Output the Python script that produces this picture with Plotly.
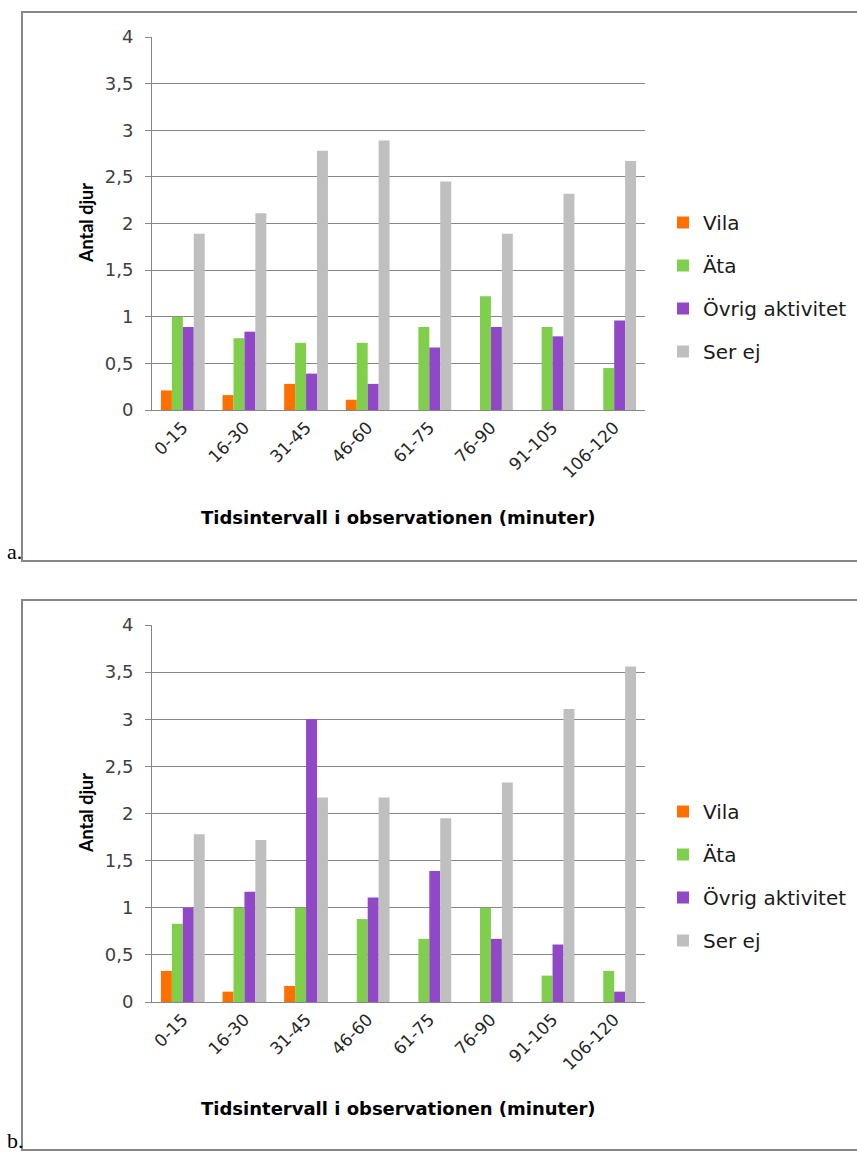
import plotly.graph_objects as go

W, H = 857, 1153

categories = ["0-15", "16-30", "31-45", "46-60", "61-75", "76-90", "91-105", "106-120"]
series_names = ["Vila", "Äta", "Övrig aktivitet", "Ser ej"]
colors = ["#FF7000", "#80CF4C", "#9048C6", "#BFBFBF"]

# Chart a
a_vila = [0.21, 0.16, 0.28, 0.11, 0, 0, 0, 0]
a_ata = [1.0, 0.77, 0.72, 0.72, 0.89, 1.22, 0.89, 0.45]
a_ovrig = [0.89, 0.84, 0.39, 0.28, 0.67, 0.89, 0.79, 0.96]
a_serej = [1.89, 2.11, 2.78, 2.89, 2.45, 1.89, 2.32, 2.67]

# Chart b
b_vila = [0.33, 0.11, 0.17, 0, 0, 0, 0, 0]
b_ata = [0.83, 1.0, 1.0, 0.88, 0.67, 1.0, 0.28, 0.33]
b_ovrig = [1.0, 1.17, 3.0, 1.11, 1.39, 0.67, 0.61, 0.11]
b_serej = [1.78, 1.72, 2.17, 2.17, 1.95, 2.33, 3.11, 3.56]

y_ticks = [0, 0.5, 1, 1.5, 2, 2.5, 3, 3.5, 4]
y_ticktext = ["0", "0,5", "1", "1,5", "2", "2,5", "3", "3,5", "4"]

x_title = "Tidsintervall i observationen (minuter)"
y_title = "Antal djur"


def px(x):
    return x / W


def py(y):
    return 1 - y / H


fig = go.Figure()

for data, xa, ya, leg in [
    ([a_vila, a_ata, a_ovrig, a_serej], "x", "y", "legend"),
    ([b_vila, b_ata, b_ovrig, b_serej], "x2", "y2", "legend2"),
]:
    for name, vals, col in zip(series_names, data, colors):
        fig.add_trace(go.Bar(
            x=categories, y=vals, name=name, marker_color=col,
            marker_line_width=0, xaxis=xa, yaxis=ya, legend=leg,
            legendgroup=leg + name,
        ))

FONT = "DejaVu Sans"
GRID = "#878787"

axis_common_y = dict(
    range=[0, 4], tickvals=y_ticks, ticktext=y_ticktext,
    showgrid=True, gridcolor=GRID, gridwidth=1, zeroline=False,
    showline=True, linecolor=GRID, linewidth=1,
    ticks="outside", ticklen=6, tickcolor=GRID, ticklabelstandoff=8,
    tickfont=dict(family=FONT, size=18, color="#404040"),
    fixedrange=True, automargin=False,
)
axis_common_x = dict(
    showline=True, linecolor=GRID, linewidth=1, ticks="",
    tickangle=-45, tickfont=dict(family=FONT, size=17, color="#262626"),
    showgrid=False, fixedrange=True, automargin=False,
)

legend_common = dict(
    font=dict(family=FONT, size=20, color="#1a1a1a"),
    bgcolor="rgba(0,0,0,0)", tracegroupgap=14,
    xanchor="left", yanchor="top", itemclick=False,
)

fig.update_layout(
    template="none",
    width=W, height=H, margin=dict(l=0, r=0, t=0, b=0, pad=0),
    paper_bgcolor="white", plot_bgcolor="white",
    barmode="group", bargap=0.29, bargroupgap=0,
    xaxis=dict(domain=[px(152), px(645)], anchor="y", **axis_common_x),
    yaxis=dict(domain=[py(410), py(37)], anchor="x", **axis_common_y),
    xaxis2=dict(domain=[px(152), px(645)], anchor="y2", **axis_common_x),
    yaxis2=dict(domain=[py(1002), py(625)], anchor="x2", **axis_common_y),
    legend=dict(x=px(663), y=py(203), **legend_common),
    legend2=dict(x=px(663), y=py(792), **legend_common),
    showlegend=True,
)

# Frames around each chart
for y0, y1 in [(12, 561), (600, 1150)]:
    fig.add_shape(type="rect", xref="paper", yref="paper",
                  x0=px(22), x1=px(880), y0=py(y1), y1=py(y0),
                  line=dict(color="#878787", width=2), fillcolor="rgba(0,0,0,0)",
                  layer="below")

annotations = []
for yc, xt_y, lab, lab_y in [(223, 517, "a.", 551), (813, 1108, "b.", 1140)]:
    annotations.append(dict(x=px(86), y=py(yc), xref="paper", yref="paper",
                            text=f"<b>{y_title}</b>", textangle=-90, showarrow=False,
                            font=dict(family="Lato", size=18, color="#000000"),
                            xanchor="center", yanchor="middle"))
    annotations.append(dict(x=px(398), y=py(xt_y), xref="paper", yref="paper",
                            text=f"<b>{x_title}</b>", showarrow=False,
                            font=dict(family=FONT, size=18, color="#000000"),
                            xanchor="center", yanchor="middle"))
    annotations.append(dict(x=px(5), y=py(lab_y), xref="paper", yref="paper",
                            text=lab, showarrow=False,
                            font=dict(family="Liberation Serif", size=22, color="#000000"),
                            xanchor="left", yanchor="middle"))
fig.update_layout(annotations=annotations)

fig.write_html(
    "out.html",
    config={"displayModeBar": False},
    post_script="document.body.style.margin='0';document.body.style.padding='0';document.body.style.overflow='hidden';",
)
